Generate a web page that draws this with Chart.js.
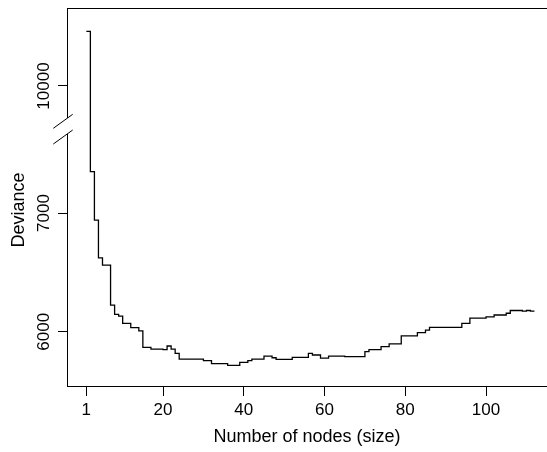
<!DOCTYPE html>
<html>
<head>
<meta charset="utf-8">
<script src="https://cdn.jsdelivr.net/npm/chart.js@4"></script>
<style>
html,body{margin:0;padding:0;background:#fff;overflow:hidden}
#wrap{width:547px;height:452px;position:relative}
</style>
</head>
<body>
<div id="wrap"><canvas id="c"></canvas></div>
<script>
// ---- data ----
const sizes = [1,2,3,4,5,6,7,8,9,10,11,12,13,14,15,16,17,18,19,20,
  21,22,23,24,25,26,27,28,29,30,31,32,33,34,35,36,37,38,39,40,
  41,42,43,44,45,46,47,48,49,50,51,52,53,54,55,56,57,58,59,60,
  61,62,63,64,65,66,67,68,69,70,71,72,73,74,75,76,77,78,79,80,
  81,82,83,84,85,86,87,88,89,90,91,92,93,94,95,96,97,98,99,100,
  101,102,103,104,105,106,107,108,109,110,111,112];
const deviance = [10460,7348,6941,6623,6562,6562,6225,6147,6132,6071,
  6071,6034,6034,6008,5869,5869,5854,5854,5854,5850,
  5880,5854,5818,5770,5770,5770,5770,5770,5770,5756,
  5756,5732,5732,5732,5732,5717,5717,5717,5742,5742,
  5756,5770,5770,5770,5794,5794,5781,5767,5767,5767,
  5767,5784,5784,5784,5784,5818,5804,5804,5778,5778,
  5795,5795,5795,5795,5790,5790,5790,5790,5790,5832,
  5850,5850,5850,5875,5875,5898,5898,5898,5966,5966,
  5966,5966,5992,5992,6014,6037,6037,6037,6037,6037,
  6037,6037,6037,6071,6071,6115,6115,6115,6115,6126,
  6126,6141,6141,6141,6156,6179,6179,6179,6173,6179,
  6173,6173];
const xTicks = [1,20,40,60,80,100];
const yTicks = [6000,7000,10000];
const axisBreak = [7733, 9663];   // values hidden by the broken axis
const xTitle = 'Number of nodes (size)';
const yTitle = 'Deviance';

const FONT = '"Liberation Sans", Arial, Helvetica, sans-serif';

// ---- a linear scale with a gap (broken axis) ----
class BrokenLinearScale extends Chart.LinearScale {
  _cv(v){ const b=this.options.brk; if(!b) return v; const lo=b[0], hi=b[1];
    if(v<=lo) return v; if(v>=hi) return v-(hi-lo); return lo; }
  _rv(c){ const b=this.options.brk; if(!b) return c; const lo=b[0], hi=b[1];
    return c<=lo ? c : c+(hi-lo); }
  getPixelForValue(value){
    if(value===null||value===undefined||isNaN(value)) return NaN;
    const a=this._cv(this.min), z=this._cv(this.max);
    return this.getPixelForDecimal((this._cv(value)-a)/(z-a));
  }
  getValueForPixel(pixel){
    const a=this._cv(this.min), z=this._cv(this.max);
    return this._rv(a + this.getDecimalForPixel(pixel)*(z-a));
  }
}
BrokenLinearScale.id = 'brokenLinear';
BrokenLinearScale.defaults = Chart.LinearScale.defaults;
Chart.register(BrokenLinearScale);

const breakPlugin = {
  id: 'axisBreakAndTitle',
  afterDraw(chart){
    const ctx = chart.ctx, ys = chart.scales.y, ca = chart.chartArea;
    const left = ca.left;
    const pb = ys.getPixelForValue(axisBreak[0]);
    ctx.save();
    ctx.fillStyle = '#fff';
    ctx.fillRect(left-3, pb-8, 6, 16);
    ctx.strokeStyle = '#000';
    ctx.lineWidth = 1;
    ctx.beginPath();
    ctx.moveTo(left+5.7, pb-11.7); ctx.lineTo(left-13.7, pb+2.3);
    ctx.moveTo(left+5.7, pb+4);    ctx.lineTo(left-13.7, pb+18);
    ctx.stroke();
    ctx.translate(24, (ca.top+ca.bottom)/2 + 13);
    ctx.rotate(-Math.PI/2);
    ctx.font = '18px ' + FONT;
    ctx.fillStyle = '#000';
    ctx.textAlign = 'center';
    ctx.textBaseline = 'alphabetic';
    ctx.fillText(yTitle, 0, 0);
    ctx.restore();
  }
};

const points = sizes.map((s,i)=>({x:s, y:deviance[i]}));

new Chart(document.getElementById('c'), {
  type: 'line',
  data: { datasets: [{
    data: points,
    stepped: 'before',
    borderColor: '#000',
    borderWidth: 1.3,
    pointRadius: 0,
    fill: false,
    xAxisID: 'x',
    yAxisID: 'y'
  }]},
  options: {
    responsive: true,
    maintainAspectRatio: false,
    animation: false,
    layout: { padding: 0 },
    plugins: { legend: {display:false}, tooltip: {enabled:false} },
    scales: {
      x: {
        type: 'linear', position: 'bottom', min: -3.79, max: 115.1,
        afterBuildTicks: s => { s.ticks = xTicks.map(v=>({value:v})); },
        afterFit: s => { s.height = 66; },
        grid: { display:true, drawOnChartArea:false, drawTicks:true, tickLength:10, color:'#000', lineWidth:1 },
        border: { display:true, color:'#000', width:1 },
        ticks: { font:{family:FONT, size:17}, color:'#000', padding:4, maxRotation:0, autoSkip:false,
                 callback: v => String(v) },
        title: { display:true, text:xTitle, font:{family:FONT, size:18}, color:'#000', padding:{top:0,bottom:4} }
      },
      xTop: {
        type: 'linear', position: 'top', display: true,
        afterFit: s => { s.height = 8; },
        grid: { display:false, drawTicks:false },
        border: { display:true, color:'#000', width:1 },
        ticks: { display:false }
      },
      y: {
        type: 'brokenLinear', position: 'left', min: 5543, max: 10657, brk: axisBreak,
        afterBuildTicks: s => { s.ticks = yTicks.map(v=>({value:v})); },
        afterFit: s => { s.width = 67; },
        grid: { display:true, drawOnChartArea:false, drawTicks:true, tickLength:9, color:'#000', lineWidth:1 },
        border: { display:true, color:'#000', width:1 },
        ticks: { font:{family:FONT, size:17}, color:'#000', minRotation:90, maxRotation:90,
                 crossAlign:'center', padding:-9.6, autoSkip:false, callback: v => String(v) }
      }
    }
  },
  plugins: [breakPlugin]
});
</script>
</body>
</html>
